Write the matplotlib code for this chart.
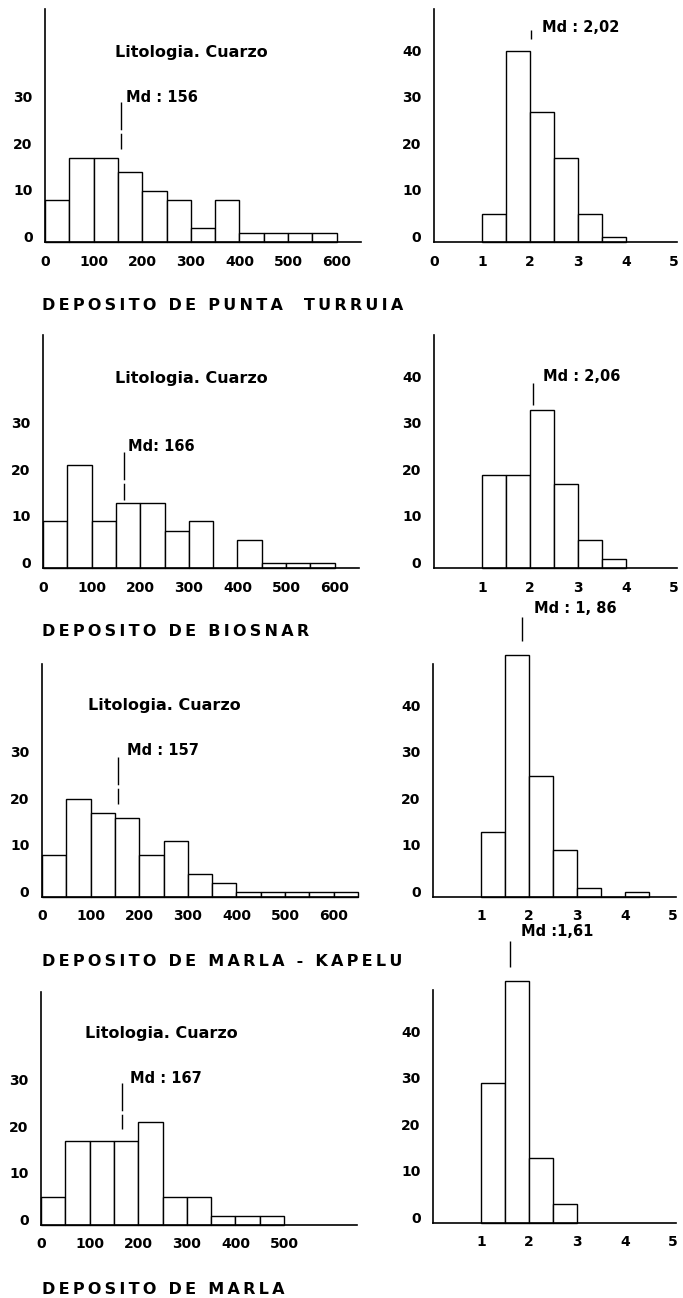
import numpy as np
import matplotlib.pyplot as plt
from matplotlib.transforms import ScaledTranslation

plt.rcParams['font.family'] = ['DejaVu Sans']
plt.rcParams['font.weight'] = 'bold'

# --- data (percent per class) ---
titles = ['DEPOSITO DE PUNTA  TURRUIA', 'DEPOSITO DE BIOSNAR',
          'DEPOSITO DE MARLA - KAPELU', 'DEPOSITO DE MARLA']

um_edges = np.arange(0, 651, 50)          # grain size classes (micras)
punta_um = [9, 18, 18, 15, 11, 9, 3, 9, 2, 2, 2, 2]
biosnar_um = [10, 22, 10, 14, 14, 8, 10, 0, 6, 1, 1, 1]
kapelu_um = [9, 21, 18, 17, 9, 12, 5, 3, 1, 1, 1, 1, 1]
marla_um = [6, 18, 18, 18, 22, 6, 6, 2, 2, 2]

phi_edges = np.arange(1.0, 4.51, 0.5)     # phi classes
punta_phi = [6, 41, 28, 18, 6, 1]
biosnar_phi = [20, 20, 34, 18, 6, 2]
kapelu_phi = [14, 52, 26, 10, 2, 0, 1]
marla_phi = [30, 52, 14, 4]

md_um = [156, 166, 157, 167]
md_um_txt = ['Md : 156', 'Md: 166', 'Md : 157', 'Md : 167']
md_phi = [2.02, 2.06, 1.86, 1.61]
md_phi_txt = ['Md : 2,02', 'Md : 2,06', 'Md : 1, 86', 'Md :1,61']

um_ticks = [[0, 100, 200, 300, 400, 500, 600]] * 3 + [[0, 100, 200, 300, 400, 500]]
phi_ticks = [[0, 1, 2, 3, 4, 5]] + [[1, 2, 3, 4, 5]] * 3

um_data = [punta_um, biosnar_um, kapelu_um, marla_um]
phi_data = [punta_phi, biosnar_phi, kapelu_phi, marla_phi]

# --- layout in pixels ---
W, H = 683, 1298
base_left = [242, 568, 897, 1225]
base_right = [242, 568, 897, 1223]
x_left = [45, 43, 42, 41]
x_right = [434, 434, 433, 433]
ax_h = 233
# Md marker styling per row: (y0, y1, text dx, text y)
md_um_pos = [(20, 30, 10, 31), (14.6, 25, 9, 26), (20, 30, 17, 31.5), (20.7, 30.4, 16, 31.5)]
md_phi_pos = [(43.6, 45.5, 0.22, 46), (35, 39.6, 0.21, 41), (55, 60, 0.24, 62), (55, 60.5, 0.22, 62.5)]
lito_pos = [(144, 40.7), (148, 40.7), (95, 41), (90, 41)]

fig = plt.figure(figsize=(W / 100, H / 100), dpi=100)
up = ScaledTranslation(0, 4 / 72, fig.dpi_scale_trans)


def style(ax):
    for s in ['top', 'right']:
        ax.spines[s].set_visible(False)
    for s in ['left', 'bottom']:
        ax.spines[s].set_linewidth(1.2)
    ax.tick_params(length=0, labelsize=10, pad=9)
    for lab in ax.get_yticklabels():
        lab.set_transform(lab.get_transform() + up)


for i in range(4):
    # grain size (micras)
    ax = fig.add_axes([x_left[i] / W, (H - base_left[i]) / H, 316 / W, ax_h / H])
    ax.bar(um_edges[:len(um_data[i])], um_data[i], width=50, align='edge',
           facecolor='white', edgecolor='black', linewidth=1.0, clip_on=False)
    ax.set_xlim(0, 650)
    ax.set_ylim(0, 50)
    ax.set_xticks(um_ticks[i])
    ax.set_yticks([0, 10, 20, 30])
    style(ax)
    y0, y1, dx, ty = md_um_pos[i]
    # drawn top-down so the long dash sits on top
    ax.plot([md_um[i], md_um[i]], [y1, y0], color='black', linewidth=1.0,
            linestyle=(0, (20, 2.5)))
    ax.text(md_um[i] + dx, ty, md_um_txt[i], fontsize=10.5, va='center', ha='left')
    lx, ly = lito_pos[i]
    ax.text(lx, ly, 'Litologia. Cuarzo', fontsize=11.5, va='center', ha='left')

    # phi
    ax = fig.add_axes([x_right[i] / W, (H - base_right[i]) / H, 243 / W, ax_h / H])
    ax.bar(phi_edges[:len(phi_data[i])], phi_data[i], width=0.5, align='edge',
           facecolor='white', edgecolor='black', linewidth=1.0, clip_on=False)
    ax.set_xlim(0, 5.06)
    ax.set_ylim(0, 50)
    ax.set_xticks(phi_ticks[i])
    ax.set_yticks([0, 10, 20, 30, 40])
    style(ax)
    y0, y1, dx, ty = md_phi_pos[i]
    ax.vlines(md_phi[i], y0, y1, color='black', linewidth=1.0, clip_on=False)
    ax.text(md_phi[i] + dx, ty, md_phi_txt[i], fontsize=10.5, va='center', ha='left',
            clip_on=False)

    # deposit title
    fig.text(42 / W, (H - base_left[i] - 64) / H, '\u2009'.join(titles[i]),
             fontsize=11.5, va='center', ha='left')

fig.savefig('out.png', dpi=100, facecolor='white')
